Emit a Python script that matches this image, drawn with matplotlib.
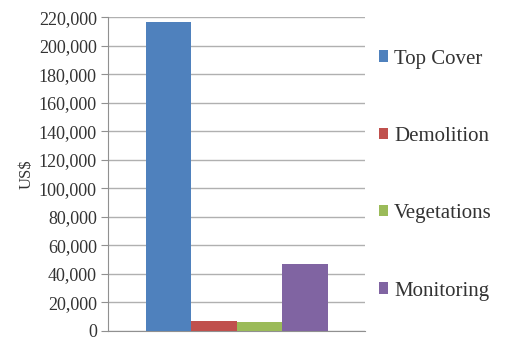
import matplotlib
matplotlib.use("Agg")
import matplotlib.pyplot as plt
from matplotlib.ticker import FuncFormatter

categories = ["Top Cover", "Demolition", "Vegetations", "Monitoring"]
values = [216500, 6700, 5800, 46500]
colors = ["#4F81BD", "#C0504D", "#9BBB59", "#8064A2"]
yticks = list(range(0, 220001, 20000))

plt.rcParams['font.family'] = ['Liberation Serif', 'DejaVu Serif']

fig = plt.figure(figsize=(5.07, 3.42), dpi=100)
ax = fig.add_axes([0.213, 0.033, 0.507, 0.916])

w = 0.177
offsets = [(i - 1.5) * w for i in range(len(values))]
for off, v, c, lab in zip(offsets, values, colors, categories):
    ax.bar(off, v, width=w, color=c, label=lab, zorder=3)

ax.set_xlim(-0.5, 0.5)
ax.set_ylim(0, 220000)
ax.set_yticks(yticks)
ax.yaxis.set_major_formatter(FuncFormatter(lambda v, p: f"{int(v):,}"))
ax.set_xticks([])
ax.grid(axis='y', color='#B0B0B0', linewidth=1.0, zorder=0)
for s in ['top', 'right']:
    ax.spines[s].set_visible(False)
ax.spines['left'].set_color('#909090')
ax.spines['bottom'].set_color('#909090')
ax.tick_params(axis='y', length=5, color='#909090', labelsize=13, pad=3, labelcolor='#333333')
ax.set_ylabel("US$", fontsize=12, labelpad=3, color='#333333')

ax.legend(loc='center left', bbox_to_anchor=(1.02, 0.497), frameon=False,
          fontsize=15, labelspacing=2.8, handlelength=0.45, handleheight=0.45,
          handletextpad=0.3, borderaxespad=0, labelcolor='#333333')

fig.savefig("out.png", dpi=100)
